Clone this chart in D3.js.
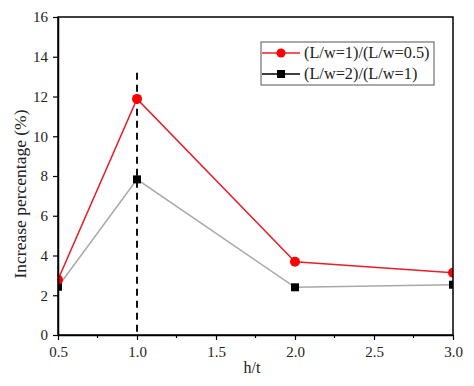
<!DOCTYPE html>
<html><head><meta charset="utf-8">
<script src="https://cdn.jsdelivr.net/npm/d3@7"></script>
<style>body{margin:0;background:#fff}svg{display:block}svg text{font-family:"Liberation Serif","Times New Roman",serif}</style>
</head><body>
<script>
const xValues = [0.5, 1.0, 2.0, 3.0];
const seriesRed = [2.78, 11.88, 3.69, 3.13];
const seriesBlack = [2.43, 7.83, 2.40, 2.53];
const seriesNames = ["(L/w=1)/(L/w=0.5)", "(L/w=2)/(L/w=1)"];
const xTicks = [0.5, 1.0, 1.5, 2.0, 2.5, 3.0];
const yTicks = [0, 2, 4, 6, 8, 10, 12, 14, 16];
const dashX = 1.0, dashTop = 13.2;

const W = 474, H = 386;
const m = {l: 58, r: 21, t: 17, b: 51};
const svg = d3.select("body").append("svg").attr("width", W).attr("height", H);
const x = d3.scaleLinear().domain([0.5, 3.0]).range([m.l, W - m.r]);
const y = d3.scaleLinear().domain([0, 16]).range([H - m.b, m.t]);

svg.append("clipPath").attr("id", "c").append("rect")
  .attr("x", m.l).attr("y", m.t).attr("width", W - m.r - m.l).attr("height", H - m.b - m.t);

const g = svg.append("g").attr("clip-path", "url(#c)");
g.append("line").attr("x1", x(dashX)).attr("x2", x(dashX)).attr("y1", y(dashTop)).attr("y2", y(0))
  .attr("stroke", "#111").attr("stroke-width", 2).attr("stroke-dasharray", "7,5");

const line = d3.line().x((d, i) => x(xValues[i])).y(d => y(d));
g.append("path").datum(seriesBlack).attr("d", line).attr("fill", "none").attr("stroke", "#a8a8a8").attr("stroke-width", 1.5);
g.append("path").datum(seriesRed).attr("d", line).attr("fill", "none").attr("stroke", "#e8202a").attr("stroke-width", 1.5);
g.selectAll(".sq").data(seriesBlack).enter().append("rect")
  .attr("x", (d, i) => x(xValues[i]) - 4).attr("y", d => y(d) - 4).attr("width", 8).attr("height", 8).attr("fill", "#000");
g.selectAll(".ci").data(seriesRed).enter().append("circle")
  .attr("cx", (d, i) => x(xValues[i])).attr("cy", d => y(d)).attr("r", 5).attr("fill", "#f00");

svg.append("rect").attr("x", m.l).attr("y", m.t).attr("width", W - m.r - m.l).attr("height", H - m.b - m.t)
  .attr("fill", "none").attr("stroke", "#000").attr("stroke-width", 1.5);

const xa = svg.append("g").attr("transform", `translate(0,${H - m.b})`)
  .call(d3.axisBottom(x).tickValues(xTicks).tickFormat(d3.format(".1f")).tickSize(5).tickSizeOuter(0));
const minorX = d3.range(0.75, 3.0, 0.5);
svg.append("g").selectAll("line").data(minorX).enter().append("line")
  .attr("x1", d => x(d)).attr("x2", d => x(d)).attr("y1", H - m.b).attr("y2", H - m.b + 3)
  .attr("stroke", "#000").attr("stroke-width", 1.2);
const ya = svg.append("g").attr("transform", `translate(${m.l},0)`)
  .call(d3.axisLeft(y).tickValues(yTicks).tickSize(5).tickSizeOuter(0).tickPadding(5));
[xa, ya].forEach(a => {
  a.attr("font-family", null);
  a.select(".domain").attr("stroke-width", 1.5);
  a.selectAll(".tick line").attr("stroke-width", 1.2);
  a.selectAll("text").attr("font-size", 15).attr("fill", "#222");
});
xa.selectAll("text").attr("dy", "0.93em");

svg.append("text").attr("x", 252).attr("y", 373).attr("text-anchor", "middle")
  .attr("font-size", 16).attr("fill", "#222").text("h/t");
svg.append("text").attr("transform", `translate(26,194) rotate(-90)`)
  .attr("text-anchor", "middle").attr("font-size", 17.5).attr("fill", "#222").text("Increase percentage (%)");

const lg = svg.append("g");
lg.append("rect").attr("x", 261).attr("y", 42).attr("width", 173).attr("height", 43)
  .attr("fill", "#fff").attr("stroke", "#555").attr("stroke-width", 1);
const items = [{c: "#e8202a", shape: "c"}, {c: "#000", shape: "s"}];
items.forEach((it, i) => {
  const yy = 53 + i * 21;
  lg.append("line").attr("x1", 262).attr("x2", 300).attr("y1", yy).attr("y2", yy)
    .attr("stroke", it.c).attr("stroke-width", 1.3);
  if (it.shape === "c") lg.append("circle").attr("cx", 281).attr("cy", yy).attr("r", 4.5).attr("fill", "#f00");
  else lg.append("rect").attr("x", 277).attr("y", yy - 4).attr("width", 8).attr("height", 8).attr("fill", "#000");
  lg.append("text").attr("x", 304).attr("y", yy + 5).attr("font-size", 16.3).attr("fill", "#222").text(seriesNames[i]);
});
</script>
</body></html>
